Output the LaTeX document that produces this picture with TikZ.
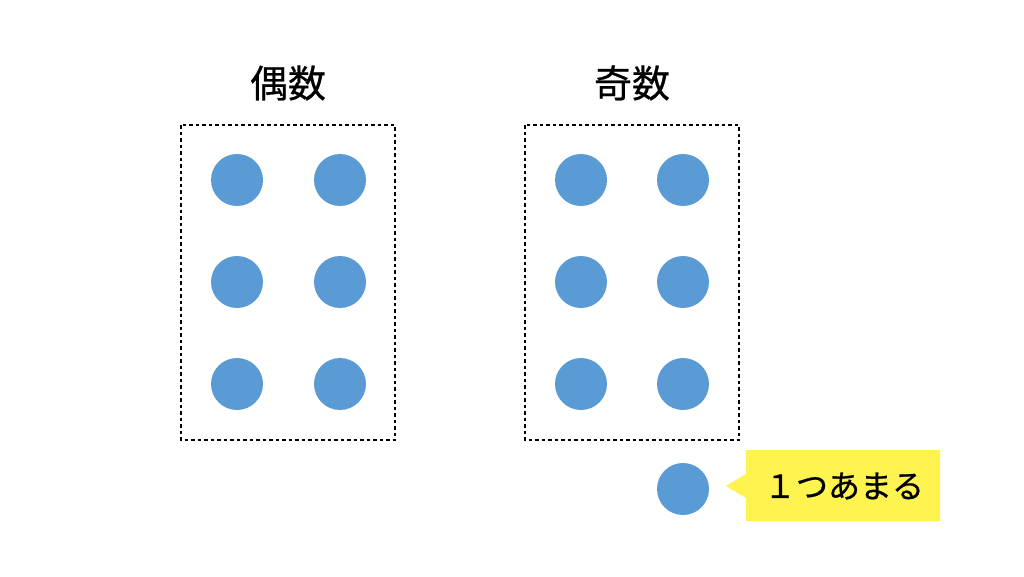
\documentclass[tikz,border=0pt]{standalone}
\usepackage{fontspec}
\newfontfamily\cjk{Noto Sans CJK JP}
\newfontfamily\cjkm[FakeBold=0.6]{Noto Sans CJK JP}
\definecolor{dotblue}{HTML}{5B9BD5}
\definecolor{calloutyellow}{HTML}{FFF350}
\begin{document}
\begin{tikzpicture}[x=1pt,y=-1pt,
  dot/.style={circle,fill=dotblue,minimum size=52pt,inner sep=0pt},
  groupbox/.style={draw=black,line width=1.2pt,dash pattern=on 3.5pt off 3pt},
  title/.style={font=\cjkm\fontsize{38}{42}\selectfont},
  every node/.style={inner sep=0pt}]
\useasboundingbox (0,0) rectangle (1024,576);
\fill[white] (0,0) rectangle (1024,576);
% titles
\node[title] (t1) at (288,83) {偶数};
\node[title] (t2) at (632,83) {奇数};
% boxes
\draw[groupbox] (181,125) rectangle (395,440);
\draw[groupbox] (525,125) rectangle (739,440);
% dots
\foreach \r/\y in {1/180,2/282,3/384}{
  \node[dot] (a\r) at (237,\y) {};
  \node[dot] (b\r) at (340,\y) {};
  \node[dot] (c\r) at (581,\y) {};
  \node[dot] (d\r) at (683,\y) {};
}
\node[dot] (extra) at (683,489) {};
% callout
\fill[calloutyellow] (726,486) -- (746,474) -- (746,450) -- (940,450) -- (940,521) -- (746,521) -- (746,498) -- cycle;
\node[font=\cjkm\fontsize{32}{36}\selectfont] (lbl) at (844,486) {１つあまる};
\end{tikzpicture}
\end{document}
